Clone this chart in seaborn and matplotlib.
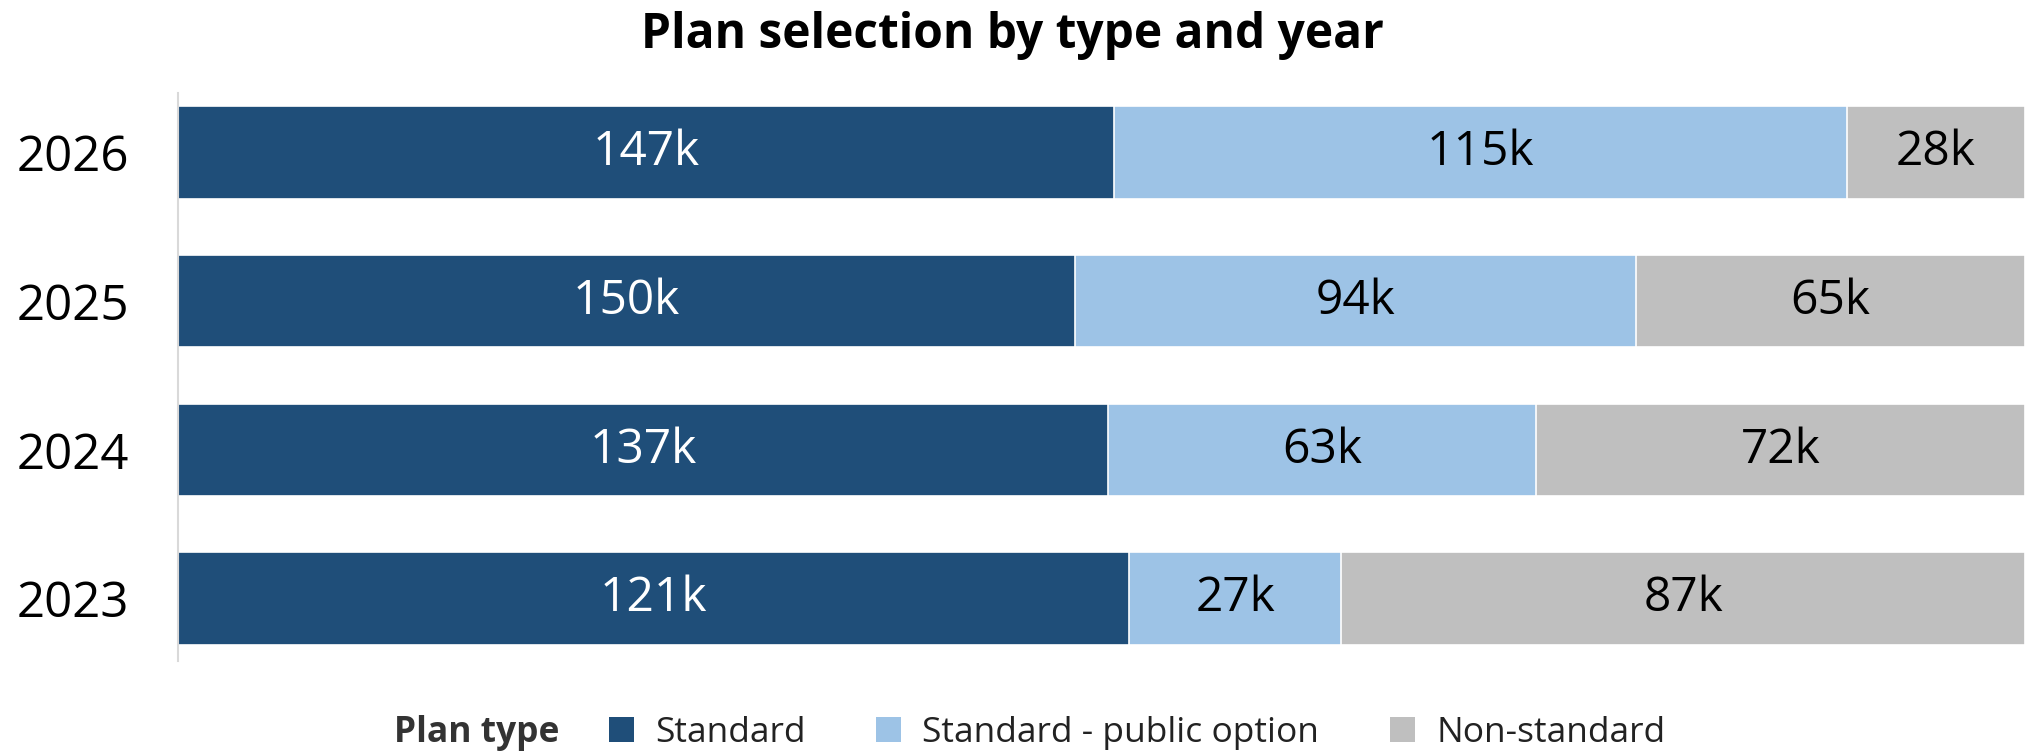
import matplotlib
matplotlib.use("Agg")
import matplotlib.pyplot as plt
from matplotlib.patches import Patch
import numpy as np
import pandas as pd
import seaborn as sns

years = ["2026", "2025", "2024", "2023"]
plan_types = ["Standard", "Standard - public option", "Non-standard"]
standard = [147, 150, 137, 121]
public_option = [115, 94, 63, 27]
non_standard = [28, 65, 72, 87]
colors = ["#1f4e79", "#9dc3e6", "#bfbfbf"]
label_colors = ["white", "black", "black"]

sns.set_theme(style="white")
plt.rcParams["font.family"] = ["Open Sans", "DejaVu Sans"]
plt.rcParams["text.color"] = "black"
plt.rcParams["ytick.color"] = "black"

counts = np.array([standard, public_option, non_standard], dtype=float)
totals = counts.sum(axis=0)
shares = counts / totals
cum = np.cumsum(shares, axis=0)

fig = plt.figure(figsize=(20.25, 7.53), dpi=100)
ax = fig.add_axes([178 / 2025, 1 - 661 / 753, 1 - 178 / 2025, (661 - 93) / 753])

# Layer cumulative shares from the widest segment down so each shows as a stacked piece
for i in reversed(range(3)):
    df = pd.DataFrame({"year": years, "share": cum[i]})
    sns.barplot(data=df, x="share", y="year", order=years, color=colors[i],
                saturation=1, width=0.62, edgecolor="white", linewidth=1.2, ax=ax)

for i in range(3):
    left = cum[i] - shares[i]
    for j, yr in enumerate(years):
        ax.text(left[j] + shares[i][j] / 2, j, f"{int(counts[i][j])}k",
                ha="center", va="center", fontsize=34.5, color=label_colors[i])

ax.set_xlim(0, 1)
ax.set_ylim(3.42, -0.4)
ax.set_xlabel("")
ax.set_ylabel("")
ax.set_xticks([])
ax.tick_params(axis="y", labelsize=35.5, length=0, pad=35, labelcolor="black")
for s in ["top", "right", "bottom"]:
    ax.spines[s].set_visible(False)
ax.spines["left"].set_color("#d9d9d9")
ax.spines["left"].set_linewidth(1.5)

fig.text(0.5, 1 - 35 / 753, "Plan selection by type and year", ha="center", va="center",
         fontsize=34.5, fontweight="bold", color="black")

fig.text(394 / 2025, 1 - 733 / 753, "Plan type", ha="left", va="center",
         fontsize=25.5, fontweight="bold", color="#333333")
handles = [Patch(facecolor=c, edgecolor="none") for c in colors]
fig.legend(handles, plan_types, loc="center left", bbox_to_anchor=(577 / 2025, 1 - 733 / 753),
           ncol=3, frameon=False, fontsize=25.5, handlelength=0.7, handleheight=0.7,
           handletextpad=0.6, columnspacing=2.0, labelcolor="#222222")

fig.savefig("out.png", dpi=100)
